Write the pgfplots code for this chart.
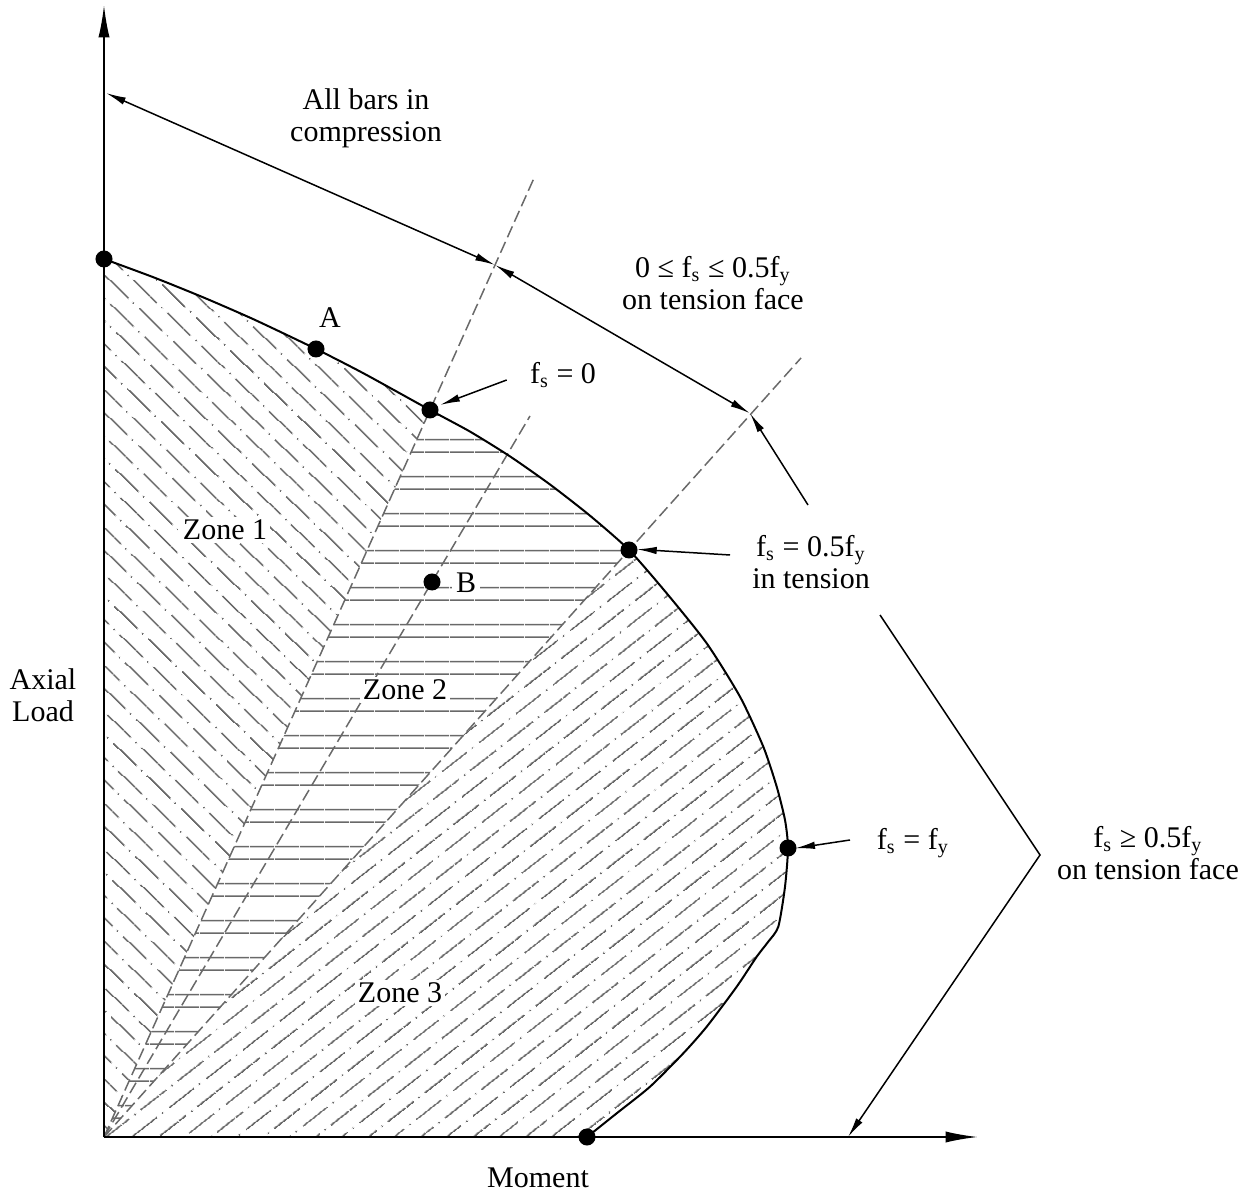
\documentclass[border=0pt]{standalone}
\usepackage{pgfplots}
\pgfplotsset{compat=1.18}
\usepackage{fontspec}
\setmainfont{Liberation Serif}
\usetikzlibrary{patterns.meta,arrows.meta}
\definecolor{hatch}{RGB}{105,105,105}

% dash-dot hatching, rotated per zone
\tikzdeclarepattern{
  name=zoneone, type=uncolored,
  bottom left={(0pt,0pt)}, top right={(18.8pt,13.2pt)},
  tile size={(18.8pt,13.2pt)},
  tile transformation={rotate=-44},
  code={
    \tikzset{x=1pt,y=1pt}
    \draw[line width=0.7pt] (0,3.3) -- (13,3.3) (15.6,3.3) -- (16.2,3.3)
      (9.4,9.9) -- (18.8,9.9) (0,9.9) -- (3.6,9.9) (6.2,9.9) -- (6.8,9.9);
  }
}
\tikzdeclarepattern{
  name=zonethree, type=uncolored,
  bottom left={(0pt,0pt)}, top right={(18.8pt,13.2pt)},
  tile size={(18.8pt,13.2pt)},
  tile transformation={rotate=38},
  code={
    \tikzset{x=1pt,y=1pt}
    \draw[line width=0.7pt] (0,3.3) -- (13,3.3) (15.6,3.3) -- (16.2,3.3)
      (9.4,9.9) -- (18.8,9.9) (0,9.9) -- (3.6,9.9) (6.2,9.9) -- (6.8,9.9);
  }
}
% paired horizontal lines
\tikzdeclarepattern{
  name=zonetwo, type=uncolored,
  bottom left={(0pt,0pt)}, top right={(10pt,14.92pt)},
  tile size={(10pt,14.92pt)},
  code={
    \tikzset{x=1pt,y=1pt}
    \draw[line width=0.6pt] (0,2) -- (10,2) (0,7.08) -- (10,7.08);
  }
}

\begin{document}
\begin{tikzpicture}[font=\fontsize{12}{12.8}\selectfont,
  tip/.style={-{Latex[length=8pt,width=3pt]}},
  tips/.style={{Latex[length=8pt,width=3pt]}-{Latex[length=8pt,width=3pt]}}]
\begin{axis}[
    width=499.2pt, height=476.4pt, scale only axis,
    xmin=-104, xmax=1144, ymin=-54, ymax=1137,
    hide axis, clip=false
]
\path (axis cs:-104,-54) rectangle (axis cs:1144,1137);

% zone fills
\addplot[draw=none, pattern=zoneone, pattern color=hatch] coordinates {
  (0,0) (0,878) (50,859.5) (100,839.3) (150,817.5) (212,788) (260,763.4) (326,727)
} -- cycle;
\addplot[draw=none, pattern=zonetwo, pattern color=hatch] coordinates {
  (0,0) (326,727) (366,705.4) (406,680.6) (446,652.5) (486,621.3) (525,587)
} -- cycle;
\addplot[draw=none, pattern=zonethree, pattern color=hatch] coordinates {
  (0,0) (525,587) (562.7,543.7) (602.7,493.7) (636,440.3) (659.3,390.3) (672.7,350.3)
  (681,317) (684,289) (681,250.3) (674.3,210.3) (664,195) (652.7,180.3) (632.7,150.3)
  (602.7,110.3) (579.3,83.7) (546,50.3) (512.7,23.7) (483,0)
} -- cycle;

% strain lines from origin
\addplot[hatch, line width=0.6pt, dash pattern=on 4.8pt off 2pt] coordinates {(0,0) (430.5,960)};
\addplot[hatch, line width=0.6pt, dash pattern=on 4.8pt off 2pt] coordinates {(0,0) (426,721)};
\addplot[hatch, line width=0.6pt, dash pattern=on 4.8pt off 2pt] coordinates {(0,0) (697,779)};

% interaction curve
\addplot[black, line width=0.8pt, smooth, tension=0.4, line join=round] coordinates {
  (0,878) (50,859.5) (100,839.3) (150,817.5) (212,788) (260,763.4) (326,727)
  (366,705.4) (406,680.6) (446,652.5) (486,621.3) (525,587)
  (562.7,543.7) (602.7,493.7) (636,440.3) (659.3,390.3) (672.7,350.3)
  (681,317) (684,289) (681,250.3) (674.3,210.3) (664,195) (652.7,180.3) (632.7,150.3)
  (602.7,110.3) (579.3,83.7) (546,50.3) (512.7,23.7) (483,0)
};

% axes
\draw[line width=0.8pt, -{Latex[length=13pt,width=4.5pt]}] (axis cs:0,0) -- (axis cs:0,1132);
\draw[line width=0.8pt, -{Latex[length=13pt,width=4.5pt]}] (axis cs:0,0) -- (axis cs:874,0);

% annotation arrows
\draw[line width=0.6pt, tips] (axis cs:2,1044) -- (axis cs:391,872);
\draw[line width=0.6pt, tips] (axis cs:391,872) -- (axis cs:646,723.7);
\draw[line width=0.6pt, {Latex[length=8pt,width=3pt]}-] (axis cs:646,723.7) -- (axis cs:704,632);
\draw[line width=0.6pt, tip] (axis cs:776,522) -- (axis cs:936,282) -- (axis cs:744,0);
\draw[line width=0.6pt, tip] (axis cs:402.7,757) -- (axis cs:336,732);
\draw[line width=0.6pt, tip] (axis cs:626,582) -- (axis cs:532.7,587.7);
\draw[line width=0.6pt, tip] (axis cs:746,297) -- (axis cs:691,288.7);

% key points
\addplot[only marks, mark=*, mark size=3.2pt, black] coordinates {
  (0,878) (212,788) (326,727) (328,555) (525,587) (684,289) (483,0)
};

% labels
\node[align=center] at (axis cs:262,1019) {All bars in\\compression};
\node[align=center] at (axis cs:609,854) {0 ≤ f\textsubscript{s} ≤ 0.5f\textsubscript{y}\\on tension face};
\node at (axis cs:226,819) {A};
\node at (axis cs:459,762) {f\textsubscript{s} = 0};
\node[fill=white, inner sep=1pt] at (axis cs:121,607) {Zone 1};
\node[fill=white, inner sep=1.5pt] at (axis cs:362,554) {B};
\node[align=center] at (axis cs:707,575) {f\textsubscript{s} = 0.5f\textsubscript{y}\\in tension};
\node[fill=white, inner sep=1pt] at (axis cs:301,447) {Zone 2};
\node[fill=white, inner sep=1pt] at (axis cs:296,144) {Zone 3};
\node[align=center] at (axis cs:-61,442) {Axial\\Load};
\node at (axis cs:809,294) {f\textsubscript{s} = f\textsubscript{y}};
\node[align=center] at (axis cs:1044,284) {f\textsubscript{s} ≥ 0.5f\textsubscript{y}\\on tension face};
\node at (axis cs:434,-41) {Moment};
\end{axis}
\end{tikzpicture}
\end{document}
